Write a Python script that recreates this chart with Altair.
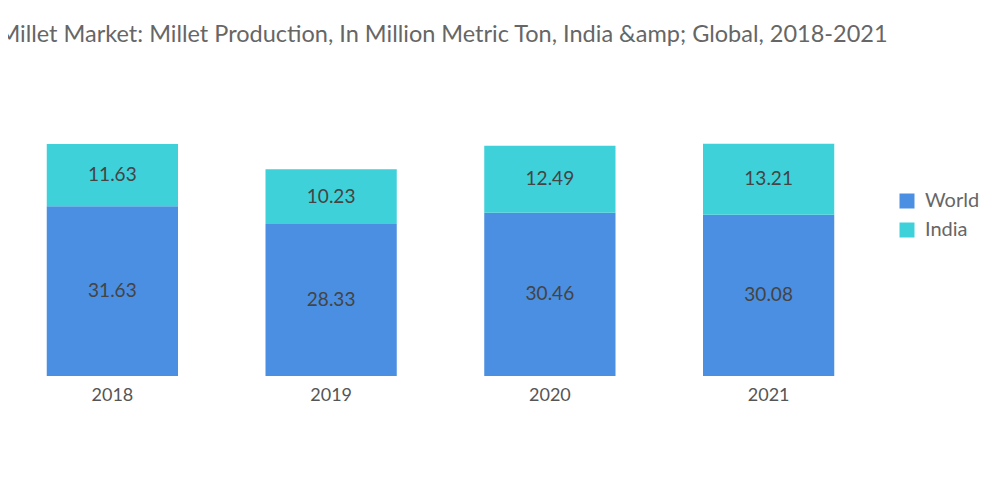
import altair as alt
import pandas as pd

years = ["2018", "2019", "2020", "2021"]
world = [31.63, 28.33, 30.46, 30.08]
india = [11.63, 10.23, 12.49, 13.21]
series = ["World", "India"]
colors = ["#4a8fe1", "#3fd1da"]

rows = []
for y, w, i in zip(years, world, india):
    rows.append({"year": y, "series": "World", "value": w, "order": 0, "mid": w / 2})
    rows.append({"year": y, "series": "India", "value": i, "order": 1, "mid": w + i / 2})
df = pd.DataFrame(rows)

FONT = "Lato"

x = alt.X("year:N", title=None, sort=years,
          scale=alt.Scale(range=[-5, 870], paddingInner=0.4, paddingOuter=0.2),
          axis=alt.Axis(labelAngle=0, domain=False, ticks=False, labelPadding=10,
                        labelFontSize=18, labelColor="#555555", labelFont=FONT))

bars = alt.Chart(df).mark_bar().encode(
    x=x,
    y=alt.Y("value:Q", stack="zero", title=None, axis=None,
            scale=alt.Scale(domain=[0, 57.43], nice=False)),
    color=alt.Color("series:N", sort=series,
                    scale=alt.Scale(domain=series, range=colors),
                    legend=alt.Legend(title=None, orient="none", legendX=889, legendY=123,
                                      symbolType="square", symbolSize=225, symbolStrokeWidth=0,
                                      labelFontSize=20, labelColor="#666666", labelFont=FONT,
                                      labelOffset=8, rowPadding=9, padding=0)),
    order=alt.Order("order:Q"),
)

labels = alt.Chart(df).mark_text(fontSize=19, color="#444444", font=FONT).encode(
    x=alt.X("year:N", sort=years),
    y=alt.Y("mid:Q"),
    text=alt.Text("value:Q", format=".2f"),
)

chart = alt.layer(bars, labels).properties(
    width=870, height=308,
    padding={"left": 0, "top": 60, "right": 114, "bottom": 112},
    autosize=alt.AutoSizeParams(type="none"),
    title=alt.Title("Millet Market: Millet Production, In Million Metric Ton, India &amp; Global, 2018-2021",
                    fontSize=23.5, font=FONT, color="#666666", fontWeight="normal",
                    anchor="middle", offset=22),
).configure_view(stroke=None)

chart.save("out.html", embed_options={"renderer": "svg", "actions": False})
